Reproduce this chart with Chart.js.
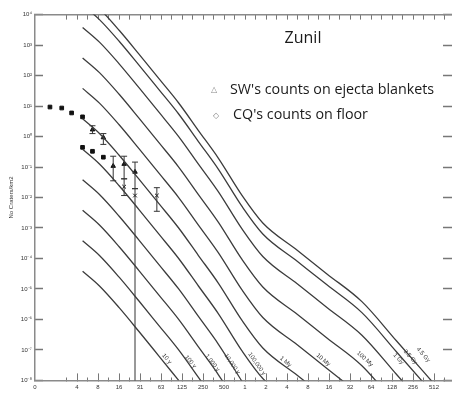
<!DOCTYPE html>
<html><head><meta charset="utf-8">
<script src="https://cdn.jsdelivr.net/npm/chart.js@4.4.1/dist/chart.umd.min.js"></script>
<style>
html,body{margin:0;padding:0;background:#fff;overflow:hidden;width:452px;height:395px;}
#wrap{position:relative;width:452px;height:395px;overflow:hidden;}
canvas{position:absolute;left:0;top:0;}
.t{position:absolute;font-family:"Open Sans",sans-serif;color:#1a1a1a;white-space:nowrap;line-height:1;}
.m{position:absolute;font-family:"DejaVu Sans",sans-serif;color:#888;line-height:1;}
</style></head><body>
<div id="wrap">
<canvas id="c" width="460" height="395"></canvas>
<div class="t" style="left:253px;width:100px;text-align:center;top:29px;font-size:16px;">Zunil</div>
<div class="m" style="left:211px;top:86px;font-size:8px;">△</div>
<div class="t" style="left:230px;top:82px;font-size:14.3px;">SW's counts on ejecta blankets</div>
<div class="m" style="left:213px;top:112px;font-size:8px;">◇</div>
<div class="t" style="left:233px;top:107px;font-size:14.3px;">CQ's counts on floor</div>
</div>
<script>
// ---- axis extents & ticks ----
const X_MIN = 1000/1024, X_MAX = 1024000, Y_MIN = 1e-8, Y_MAX = 1e4;
const xMajor = [3.90625, 7.8125, 15.625, 31.25, 62.5, 125, 250, 500, 1000, 2000, 4000, 8000, 16000, 32000, 64000, 128000, 256000, 512000];
const xMajorLabels = ["4","8","16","31","63","125","250","500","1","2","4","8","16","32","64","128","256","512"];
const xOriginLabel = "0";
const yTickValues = [1e4,1e3,1e2,1e1,1e0,1e-1,1e-2,1e-3,1e-4,1e-5,1e-6,1e-7,1e-8];
const yTickLabels = ["10⁴","10³","10²","10¹","10⁰","10⁻¹","10⁻²","10⁻³","10⁻⁴","10⁻⁵","10⁻⁶","10⁻⁷","10⁻⁸"];
const yTitle = "No Craters/km2";

// ---- isochrons (diameter in m, N per km2) ----
const isoD = [4.7, 8.2, 15.7, 30, 58, 112, 215, 414, 906, 1800, 5660, 15100, 47400, 149000, 550000];
const iso10y   = [3.80e-5, 1.25e-5, 2.43e-6, 4.09e-7, 6.40e-8, 9.98e-9];
const iso100y  = [3.80e-4, 1.25e-4, 2.43e-5, 4.09e-6, 6.40e-7, 9.98e-8, 1.25e-8, 1.56e-9];
const iso1ky   = [3.80e-3, 1.25e-3, 2.43e-4, 4.09e-5, 6.40e-6, 9.98e-7, 1.25e-7, 1.56e-8, 9.27e-10];
const iso10ky  = [3.80e-2, 1.25e-2, 2.43e-3, 4.09e-4, 6.40e-5, 9.98e-6, 1.25e-6, 1.56e-7, 9.27e-9];
const iso100ky = [0.380, 0.125, 2.43e-2, 4.09e-3, 6.40e-4, 9.98e-5, 1.25e-5, 1.56e-6, 9.27e-8, 1.16e-8, 1.45e-9];
const iso1My   = [3.80, 1.25, 0.243, 4.09e-2, 6.40e-3, 9.98e-4, 1.25e-4, 1.56e-5, 9.27e-7, 1.16e-7, 1.45e-8, 2.43e-9];
const iso10My  = [38.0, 12.5, 2.43, 0.409, 6.40e-2, 9.98e-3, 1.25e-3, 1.56e-4, 9.27e-6, 1.16e-6, 1.45e-7, 2.43e-8, 3.04e-9];
const iso100My = [380, 125, 24.3, 4.09, 0.640, 9.98e-2, 1.25e-2, 1.56e-3, 9.27e-5, 1.16e-5, 1.45e-6, 2.43e-7, 3.04e-8, 1.56e-9];
const iso1Gy   = [3800, 1250, 243, 40.9, 6.40, 0.998, 0.125, 1.56e-2, 9.27e-4, 1.16e-4, 1.45e-5, 2.43e-6, 3.04e-7, 1.56e-8, 5.12e-10];
const iso35Gy  = [2.09e4, 6.85e3, 1.34e3, 225, 35.2, 5.48, 0.685, 8.57e-2, 5.09e-3, 6.37e-4, 7.96e-5, 1.34e-5, 1.67e-6, 8.57e-8, 2.81e-9];
const iso45Gy  = [4.79e4, 1.57e4, 3.06e3, 515, 80.5, 12.6, 1.57, 0.196, 1.17e-2, 1.46e-3, 1.82e-4, 3.06e-5, 3.83e-6, 1.96e-7, 6.44e-9];
const isoSeries = [iso10y, iso100y, iso1ky, iso10ky, iso100ky, iso1My, iso10My, iso100My, iso1Gy, iso35Gy, iso45Gy];
const isoNames  = ["10 y","100 y","1,000 y","10,000 y","100,000 y","1 My","10 My","100 My","1 Gy","3.5 Gy","4.5 Gy"];
const isoLabelD = [75.6, 165.6, 340, 654, 1480, 3820, 13230, 52300, 158800, 235000, 359700];
const isoLabelN = [5.1e-8, 4.1e-8, 3.8e-8, 3.5e-8, 3.5e-8, 4.1e-8, 4.75e-8, 5.1e-8, 5.1e-8, 5.9e-8, 6.9e-8];

// ---- crater counts ----
const ejectaD  = [1.6, 2.36, 3.27, 4.69, 6.51, 9.32, 18.5, 26.5, 54.5];
const ejectaN  = [9.29, 8.62, 5.94, 4.42, 1.68, 0.929, 0.0226, 0.0116, 0.0116];
const ejectaLo = [null, null, null, null, 1.25, 0.552, 0.0116, 1e-9, 0.00353];
const ejectaHi = [null, null, null, null, 2.26, 1.25, 0.041, 0.0195, 0.021];
const floorD   = [4.69, 6.51, 9.32, 12.9, 18.5, 26.5];
const floorN   = [0.442, 0.328, 0.210, 0.1076, 0.125, 0.069];
const floorLo  = [null, null, null, 0.0353, 0.041, 0.0195];
const floorHi  = [null, null, null, 0.226, 0.226, 0.145];

// ---- styles ----
const isoLabelAngle = [50, 50, 52, 55, 55, 40, 40, 42, 48, 48, 48];
const ejectaStyle = ['rect','rect','rect','rect','triangle','triangle','crossRot','crossRot','crossRot'];
const floorStyle  = ['rect','rect','rect','triangle','triangle','triangle'];
const INK = '#333';

const xTicksAll = [X_MIN];
xMajor.forEach(m => { xTicksAll.push(m / Math.SQRT2, m); });
xTicksAll.push(xMajor[xMajor.length-1] * Math.SQRT2);
const near = (a,b) => Math.abs(a-b)/b < 1e-6;
const isMajor = v => xMajor.some(m => near(v,m));
const xLabel = v => { if (near(v, X_MIN)) return xOriginLabel; const i = xMajor.findIndex(m => near(v,m)); return i >= 0 ? xMajorLabels[i] : ''; };
const yLabel = v => { const i = yTickValues.findIndex(t => near(v,t)); return i >= 0 ? yTickLabels[i] : ''; };

const datasets = [];
isoSeries.forEach((arr, k) => {
  datasets.push({ label: isoNames[k], data: arr.map((n,i) => ({x: isoD[i], y: n})),
    borderColor: '#3c3c3c', borderWidth: 1.3, pointRadius: 0, cubicInterpolationMode: 'monotone', fill: false });
});
function addErr(Ds, Lo, Hi) {
  Ds.forEach((d,i) => { if (Lo[i] == null) return;
    datasets.push({ label: 'err', data: [{x:d, y:Lo[i]}, {x:d, y:Hi[i]}], borderColor: INK, borderWidth: 1,
      pointStyle: 'line', pointRadius: 3, pointBorderColor: INK, pointBorderWidth: 1 });
  });
}
addErr(ejectaD, ejectaLo, ejectaHi);
addErr(floorD, floorLo, floorHi);
datasets.push({ label: "SW's counts on ejecta blankets", data: ejectaD.map((d,i)=>({x:d, y:ejectaN[i]})), showLine: false,
  pointStyle: c => ejectaStyle[c.dataIndex], pointRadius: 2.6, backgroundColor: '#111', borderColor: '#111', pointBorderWidth: 1 });
datasets.push({ label: "CQ's counts on floor", data: floorD.map((d,i)=>({x:d, y:floorN[i]})), showLine: false,
  pointStyle: c => floorStyle[c.dataIndex], pointRadius: 2.6, backgroundColor: '#111', borderColor: '#111', pointBorderWidth: 1 });

const isoLabelPlugin = {
  id: 'isoLabels',
  afterDatasetsDraw(chart) {
    const {ctx} = chart; const x = chart.scales.x, y = chart.scales.y;
    ctx.save();
    ctx.font = '6px "Liberation Sans", Arial, sans-serif'; ctx.fillStyle = INK;
    ctx.textAlign = 'center'; ctx.textBaseline = 'middle';
    isoNames.forEach((t,i) => {
      ctx.save();
      ctx.translate(x.getPixelForValue(isoLabelD[i]), y.getPixelForValue(isoLabelN[i]));
      ctx.rotate(isoLabelAngle[i] * Math.PI / 180);
      ctx.fillText(t, 0, 0);
      ctx.restore();
    });
    ctx.restore();
  }
};

const tickFont = {family: '"Liberation Sans", Arial, sans-serif', size: 6};
const axisBorder = {color: '#8a8a8a', width: 1.5};
new Chart(document.getElementById('c'), {
  type: 'line',
  data: { datasets },
  plugins: [isoLabelPlugin],
  options: {
    responsive: false, animation: false, devicePixelRatio: 1,
    layout: {padding: 0},
    plugins: { legend: {display: false}, tooltip: {enabled: false} },
    scales: {
      x: { type: 'logarithmic', position: 'bottom', min: X_MIN, max: X_MAX,
        afterBuildTicks: s => { s.ticks = xTicksAll.map(v => ({value: v})); },
        afterFit: s => { s.height = 10; },
        ticks: { autoSkip: false, maxRotation: 0, padding: 10, font: tickFont, color: INK, callback: v => xLabel(v) },
        grid: { drawOnChartArea: false, tickLength: -7, tickWidth: 1,
          tickColor: c => near(c.tick.value, X_MIN) ? 'rgba(0,0,0,0)' : '#777',
          tickBorderDash: c => isMajor(c.tick.value) ? [] : [4, 40] },
        border: axisBorder },
      xTop: { type: 'logarithmic', position: 'top', min: X_MIN, max: X_MAX,
        afterBuildTicks: s => { s.ticks = xTicksAll.slice(1).map(v => ({value: v})); },
        afterFit: s => { s.height = 13; },
        ticks: { display: false },
        grid: { drawOnChartArea: false, tickLength: -5, tickWidth: 1, tickColor: '#777' },
        border: axisBorder },
      y: { type: 'logarithmic', position: 'left', min: Y_MIN, max: Y_MAX,
        afterBuildTicks: s => { s.ticks = yTickValues.map(v => ({value: v})); },
        afterFit: s => { s.width = 35; },
        ticks: { autoSkip: false, padding: 11, font: tickFont, color: INK, callback: v => yLabel(v) },
        title: { display: true, text: yTitle, font: {family: '"Liberation Sans", Arial, sans-serif', size: 6}, color: INK, padding: {top: 8, bottom: 0} },
        grid: { drawOnChartArea: false, tickLength: -8, tickWidth: 1.5, tickColor: '#777' },
        border: axisBorder },
      yR: { type: 'logarithmic', position: 'right', min: Y_MIN, max: Y_MAX,
        afterBuildTicks: s => { s.ticks = yTickValues.map(v => ({value: v})); },
        afterFit: s => { s.width = 1; },
        ticks: { display: false },
        grid: { drawOnChartArea: false, tickLength: -12, tickWidth: 1.5, tickColor: '#777' },
        border: axisBorder }
    }
  }
});
</script>
</body></html>
